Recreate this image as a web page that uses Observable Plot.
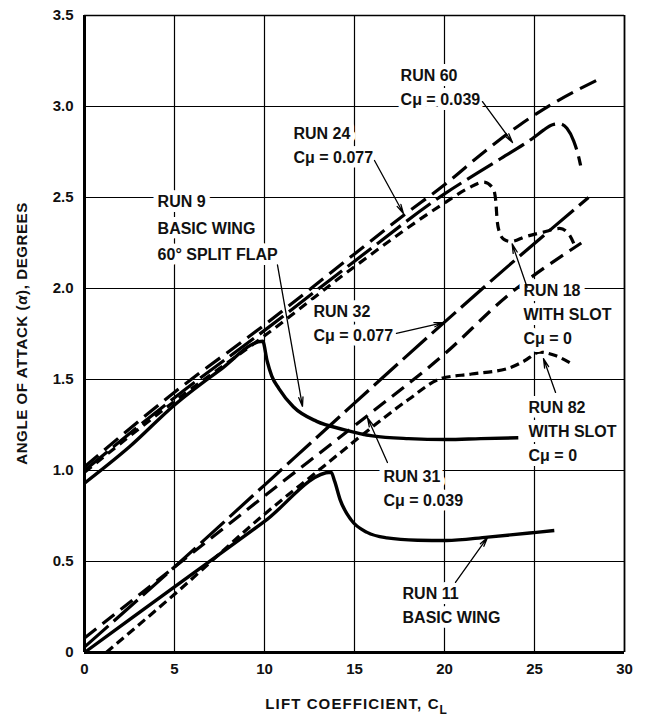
<!DOCTYPE html>
<html><head><meta charset="utf-8">
<script src="https://cdn.jsdelivr.net/npm/d3@7"></script>
<script src="https://cdn.jsdelivr.net/npm/@observablehq/plot@0.6"></script>
<style>body{margin:0;background:#fff}</style>
</head><body><div id="chart"></div>
<script>
// ---- tick values ----
const xTicks = [0, 5, 10, 15, 20, 25, 30];
const yTicks = [0, 0.5, 1.0, 1.5, 2.0, 2.5, 3.0, 3.5];

// ---- upper group (x = lift coefficient, y = angle of attack) ----
const run9 = [[0,0.93],[2.5,1.13],[5,1.36],[7.5,1.55],[9.9,1.71],[10.15,1.6],[10.4,1.52],[10.8,1.45],[11.6,1.35],[12.9,1.27],[14.4,1.225],[16,1.19],[18,1.175],[20.1,1.17],[22,1.175],[24.1,1.18]];
const run18 = [[0,0.99],[5,1.38],[10,1.74],[15,2.12],[20,2.47],[21.3,2.55],[22.18,2.585],[22.7,2.55],[22.85,2.48],[22.92,2.38],[23.05,2.31],[23.3,2.27],[23.67,2.258],[24.5,2.285],[25.5,2.31],[26.4,2.33],[26.9,2.3],[27.3,2.22]];
const run24 = [[0,1.02],[5,1.43],[10,1.8],[15,2.19],[17.7,2.4],[20,2.57],[22.2,2.75],[24.2,2.9],[26.26,3.03],[28.48,3.145]];
const run60 = [[0,1.0],[5,1.4],[10,1.77],[15,2.15],[20,2.52],[22.9,2.7],[24.96,2.83],[25.5,2.87],[26.0,2.9],[26.4,2.905],[26.8,2.88],[27.18,2.81],[27.46,2.72],[27.56,2.676]];

// ---- lower group ----
const run11 = [[0,0],[5,0.36],[10,0.72],[13.7,0.99],[13.9,0.94],[14.2,0.84],[14.8,0.73],[15.7,0.66],[16.8,0.63],[18.5,0.617],[20.1,0.615],[22.4,0.634],[25.1,0.66],[26.1,0.67]];
const run82 = [[1.2,0],[5,0.32],[10,0.76],[13,1.0],[16,1.24],[18,1.39],[19.8,1.505],[21.5,1.53],[23.5,1.56],[24.4,1.6],[25.3,1.65],[26.2,1.63],[27.0,1.59]];
const run31 = [[0,0.08],[5,0.47],[10,0.86],[15.7,1.3],[20,1.64],[23.5,1.96],[27.6,2.25]];
const run32 = [[0,0.03],[5,0.47],[10,0.92],[15,1.37],[19.94,1.81],[23.5,2.12],[28,2.5]];

// ---- line styles per series ----
const seriesNames = ["RUN 9","RUN 18","RUN 24","RUN 60","RUN 11","RUN 82","RUN 31","RUN 32"];
const seriesData  = [run9, run18, run24, run60, run11, run82, run31, run32];
const seriesDash  = [null, "9,6", "18,8", "30,7", null, "9,5", "15,8", "32,7"];
const seriesWidth = [3.4, 3.2, 3.2, 3.2, 3.4, 3.2, 3.2, 3.2];

// ---- annotation labels ----
const labelText = ["RUN 60\nCμ = 0.039","RUN 24\nCμ = 0.077","RUN 32\nCμ = 0.077","RUN 18\nWITH SLOT\nCμ = 0","RUN 82\nWITH SLOT\nCμ = 0","RUN 31\nCμ = 0.039","RUN 11\nBASIC WING"];
const labelX = [17.56, 11.61, 12.72, 24.39, 24.67, 16.61, 17.67];
const labelY = [3.231, 2.913, 1.935, 2.05, 1.407, 1.028, 0.385];
const run9Label = ["RUN 9\nBASIC WING\n60° SPLIT FLAP"];
const run9LabelX = [4.06], run9LabelY = [2.55];

// ---- leader arrows (from label to curve) ----
const arrowFrom = [[22.11,3.027],[16.11,2.703],[10.72,2.13],[17.33,1.753],[24.59,2.007],[26.17,1.429],[16.83,1.044],[20.61,0.385]];
const arrowTo   = [[23.78,2.802],[17.72,2.412],[12.11,1.352],[19.94,1.813],[23.76,2.245],[25.5,1.615],[15.72,1.291],[22.39,0.632]];

const labels = labelText.map((t,i)=>({text:t, x:labelX[i], y:labelY[i]}));
const labels9 = run9Label.map((t,i)=>({text:t, x:run9LabelX[i], y:run9LabelY[i]}));
const arrows = arrowFrom.map((f,i)=>({x1:f[0], y1:f[1], x2:arrowTo[i][0], y2:arrowTo[i][1]}));

const lineMarks = seriesData.map((d,i)=>Plot.line(d, {
  stroke:"black", strokeWidth: seriesWidth[i], strokeDasharray: seriesDash[i] || undefined,
  curve:"monotone-x", strokeLinecap:"butt", strokeLinejoin:"round"
}));

const textOpts = {x:"x", y:"y", text:"text", textAnchor:"start", lineAnchor:"top", fontSize:16, fontWeight:"bold", fill:"#111", stroke:"white", strokeWidth:10, strokeLinejoin:"round", paintOrder:"stroke"};

const chart = Plot.plot({
  width: 650, height: 721,
  marginLeft: 84, marginRight: 26, marginTop: 15, marginBottom: 69,
  x: {domain: [0, 30]},
  y: {domain: [0, 3.5]},
  style: {fontFamily: "'Liberation Sans', Arial, sans-serif", fontSize: "16px", background: "white", color: "black"},
  marks: [
    Plot.ruleY(yTicks.filter(d => d > 0 && d < 3.5), {stroke:"black", strokeWidth:1.2}),
    Plot.ruleX(xTicks.filter(d => d > 0 && d < 30), {stroke:"black", strokeWidth:1.2}),
    ...lineMarks,
    Plot.text(labels, {...textOpts, lineHeight:1.5}),
    Plot.text(labels9, {...textOpts, lineHeight:1.65}),
    Plot.arrow(arrows, {x1:"x1", y1:"y1", x2:"x2", y2:"y2", stroke:"black", strokeWidth:1.3, headLength:11, headAngle:26, bend:0}),
    Plot.ruleY([3.5], {stroke:"black", strokeWidth:1.6}),
    Plot.ruleX([30], {stroke:"black", strokeWidth:1.8}),
    Plot.ruleX([0], {stroke:"black", strokeWidth:3}),
    Plot.ruleY([0], {stroke:"black", strokeWidth:3}),
    Plot.axisX(xTicks, {tickSize:0, tickPadding:11, fontSize:15, fontWeight:"bold", fill:"#111", label:null}),
    Plot.axisY(yTicks, {tickSize:0, tickPadding:11, fontSize:15, fontWeight:"bold", fill:"#111", label:null, tickFormat: d => d === 0 ? "0" : d.toFixed(1)})
  ]
});

document.getElementById("chart").appendChild(chart);

// axis titles (with subscript)
const xs = chart.scale("x"), ys = chart.scale("y");
const svg = d3.select(chart);
const xl = svg.append("text")
  .attr("x", xs.apply(15.15)).attr("y", 709)
  .attr("text-anchor","middle").attr("font-size",15).attr("font-weight","bold").attr("letter-spacing","1.1px").attr("fill","#111");
xl.append("tspan").text("LIFT COEFFICIENT, C");
xl.append("tspan").attr("font-size",12).attr("dy",5).text("L");

const yl = svg.append("text")
  .attr("transform", `translate(27,${ys.apply(1.75)}) rotate(-90)`)
  .attr("text-anchor","middle").attr("font-size",15).attr("font-weight","bold").attr("letter-spacing","0.6px").attr("fill","#111");
yl.append("tspan").text("ANGLE OF ATTACK (");
yl.append("tspan").attr("font-style","italic").text("α");
yl.append("tspan").text("), DEGREES");
</script>
</body></html>
